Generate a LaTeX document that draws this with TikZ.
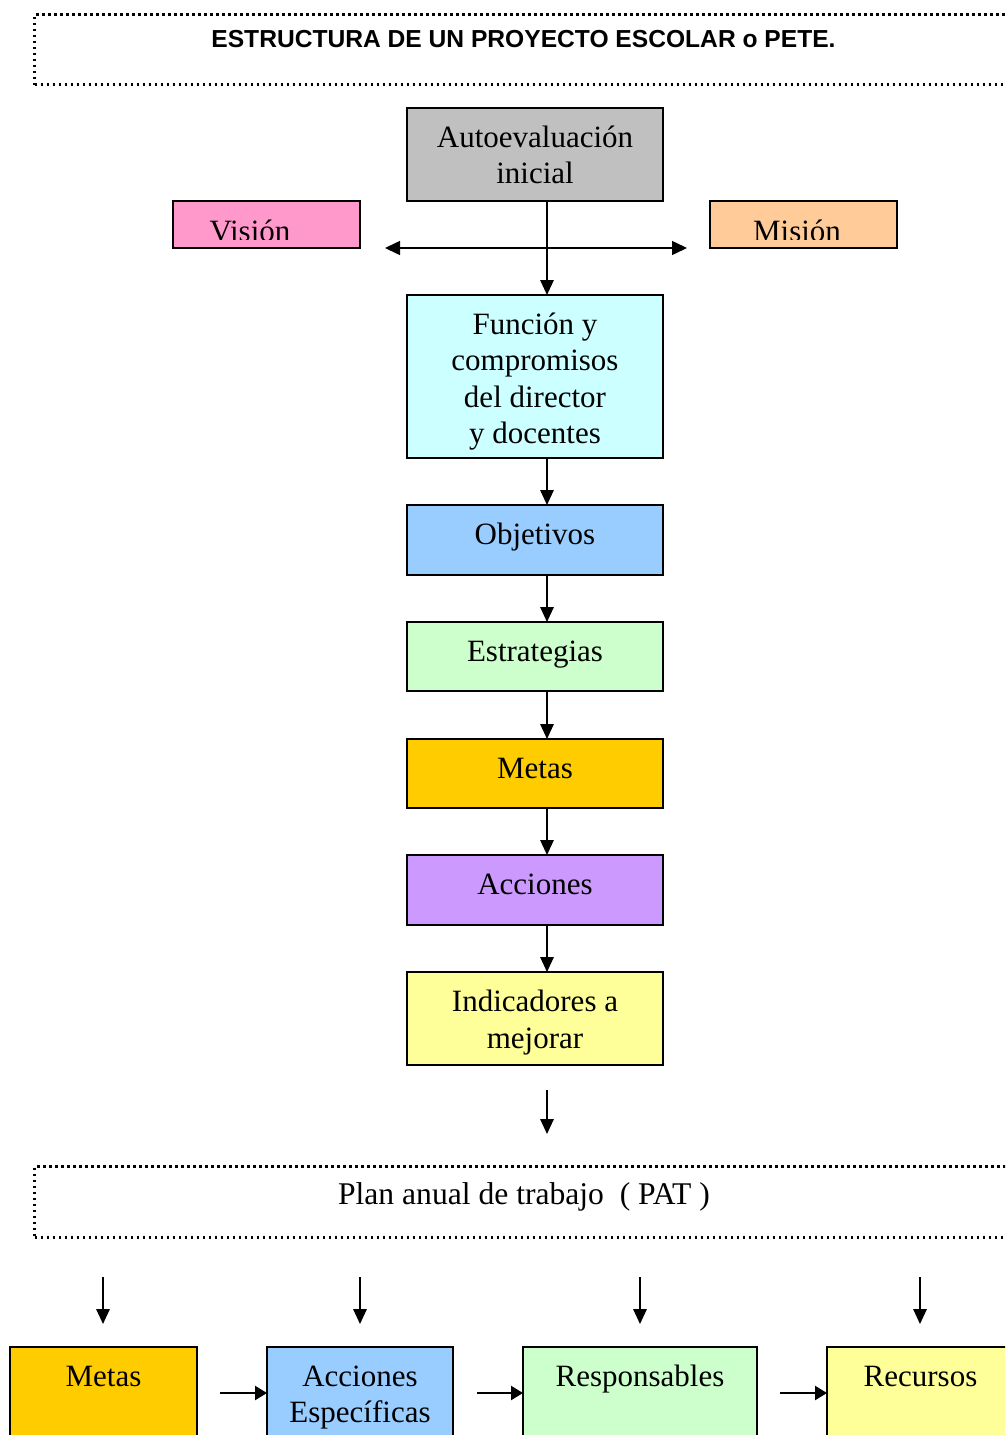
\documentclass[tikz,border=0pt]{standalone}
\usepackage{fontspec}
\setmainfont{Liberation Serif}
\newfontfamily\titlesans{Liberation Sans}
\usetikzlibrary{arrows.meta}
\definecolor{cgray}{HTML}{C0C0C0}
\definecolor{cpink}{HTML}{FF99CC}
\definecolor{cpeach}{HTML}{FFCC99}
\definecolor{ccyan}{HTML}{CCFFFF}
\definecolor{cblue}{HTML}{99CCFF}
\definecolor{cgreen}{HTML}{CCFFCC}
\definecolor{cgold}{HTML}{FFCC00}
\definecolor{cpurple}{HTML}{CC99FF}
\definecolor{cyellow}{HTML}{FFFF99}
\newcommand\toplinetext[1]{\rule{0pt}{21.7pt}\smash{#1}}
\begin{document}
\begin{tikzpicture}[x=1pt,y=-1pt,
  box/.style={draw=black, line width=1.6pt, inner sep=0pt, outer sep=0pt, anchor=north west},
  txt/.style={align=center, inner sep=0pt, anchor=north,
    font=\fontsize{31}{36.5}\selectfont},
  arr/.style={line width=1.6pt, -{Triangle[length=15pt,width=13.5pt]}},
  harr/.style={line width=2.4pt, -{Triangle[length=12pt,width=14pt]}},
  dotbox/.style={draw=black, line width=3pt, dash pattern=on 2.5pt off 3.5pt}]
\useasboundingbox (0,0) rectangle (1005,1435);
\clip (0,0) rectangle (1005,1435);

% title
\node[dotbox, minimum width=981pt, minimum height=70pt, anchor=north west] (title) at (33,13) {};
\node[font=\titlesans\bfseries\fontsize{24.6}{28}\selectfont, inner sep=0pt, anchor=base] (titleT) at (523.5,47.8) {ESTRUCTURA DE UN PROYECTO ESCOLAR o PETE.};

% main column
\node[box, fill=cgray, minimum width=256pt, minimum height=93pt] (auto) at (407,108) {};
\node[txt] (autoT) at ([yshift=-17.5pt]auto.north) {\toplinetext{Autoevaluación}\\inicial};

\node[box, fill=cpink, minimum width=187pt, minimum height=47pt] (vis) at (173,201) {};
\node[box, fill=cpeach, minimum width=187pt, minimum height=47pt] (mis) at (710,201) {};
\begin{scope}
  \clip (174,202) rectangle (359,239.5);
  \node[txt] (visT) at (250,219.3) {\toplinetext{Visión}};
\end{scope}
\begin{scope}
  \clip (711,202) rectangle (896,239.5);
  \node[txt] (misT) at (797,219.3) {\toplinetext{Misión}};
\end{scope}

\node[box, fill=ccyan, minimum width=256pt, minimum height=163pt] (func) at (407,295) {};
\node[txt] (funcT) at ([yshift=-17.5pt]func.north) {\toplinetext{Función y}\\compromisos\\del director\\y docentes};

\node[box, fill=cblue, minimum width=256pt, minimum height=70pt] (obj) at (407,505) {};
\node[txt] (objT) at ([yshift=-18pt]obj.north) {\toplinetext{Objetivos}};

\node[box, fill=cgreen, minimum width=256pt, minimum height=69pt] (est) at (407,622) {};
\node[txt] (estT) at ([yshift=-18pt]est.north) {\toplinetext{Estrategias}};

\node[box, fill=cgold, minimum width=256pt, minimum height=69pt] (met) at (407,739) {};
\node[txt] (metT) at ([yshift=-18pt]met.north) {\toplinetext{Metas}};

\node[box, fill=cpurple, minimum width=256pt, minimum height=70pt] (acc) at (407,855) {};
\node[txt] (accT) at ([yshift=-18pt]acc.north) {\toplinetext{Acciones}};

\node[box, fill=cyellow, minimum width=256pt, minimum height=93pt] (ind) at (407,972) {};
\node[txt] (indT) at ([yshift=-18pt]ind.north) {\toplinetext{Indicadores a}\\mejorar};

% connectors main column
\coordinate (vL) at (385,248);
\coordinate (vR) at (687,248);
\draw[line width=1.6pt, {Triangle[length=15pt,width=14pt]}-{Triangle[length=15pt,width=14pt]}] (vL) -- (vR);
\draw[arr] ([xshift=12pt]auto.south) -- ([xshift=12pt]func.north);
\draw[arr] ([xshift=12pt]func.south) -- ([xshift=12pt]obj.north);
\draw[arr] ([xshift=12pt]obj.south) -- ([xshift=12pt]est.north);
\draw[arr] ([xshift=12pt]est.south) -- ([xshift=12pt]met.north);
\draw[arr] ([xshift=12pt]met.south) -- ([xshift=12pt]acc.north);
\draw[arr] ([xshift=12pt]acc.south) -- ([xshift=12pt]ind.north);
\coordinate (iA) at (547,1090);
\coordinate (iB) at (547,1134);
\draw[arr] (iA) -- (iB);

% PAT
\node[dotbox, minimum width=981pt, minimum height=71pt, anchor=north west] (pat) at (33,1165) {};
\node[txt, font=\fontsize{31.6}{36.5}\selectfont] (patT) at (524,1183) {\toplinetext{Plan anual de trabajo\ \ ( PAT )}};

% bottom arrows
\foreach \x/\n in {103/a,360/b,640/c,920/d}{
  \coordinate (d\n1) at (\x,1277);
  \coordinate (d\n2) at (\x,1324);
  \draw[arr] (d\n1) -- (d\n2);
}

% bottom boxes
\node[box, fill=cgold, minimum width=187pt, minimum height=110pt] (bmet) at (10,1347) {};
\node[txt] (bmetT) at ([yshift=-18pt]bmet.north) {\toplinetext{Metas}};
\node[box, fill=cblue, minimum width=186pt, minimum height=110pt] (bacc) at (267,1347) {};
\node[txt] (baccT) at ([yshift=-17.5pt]bacc.north) {\toplinetext{Acciones}\\Específicas};
\node[box, fill=cgreen, minimum width=234pt, minimum height=110pt] (bres) at (523,1347) {};
\node[txt] (bresT) at ([yshift=-18pt]bres.north) {\toplinetext{Responsables}};
\node[box, fill=cyellow, minimum width=187pt, minimum height=110pt] (brec) at (827,1347) {};
\node[txt] (brecT) at ([yshift=-18pt]brec.north) {\toplinetext{Recursos}};

\coordinate (h1) at (220,1393);
\coordinate (h2) at (477,1393);
\coordinate (h3) at (780,1393);
\draw[harr] (h1) -- (h1 -| bacc.west);
\draw[harr] (h2) -- (h2 -| bres.west);
\draw[harr] (h3) -- (h3 -| brec.west);
\end{tikzpicture}
\end{document}
